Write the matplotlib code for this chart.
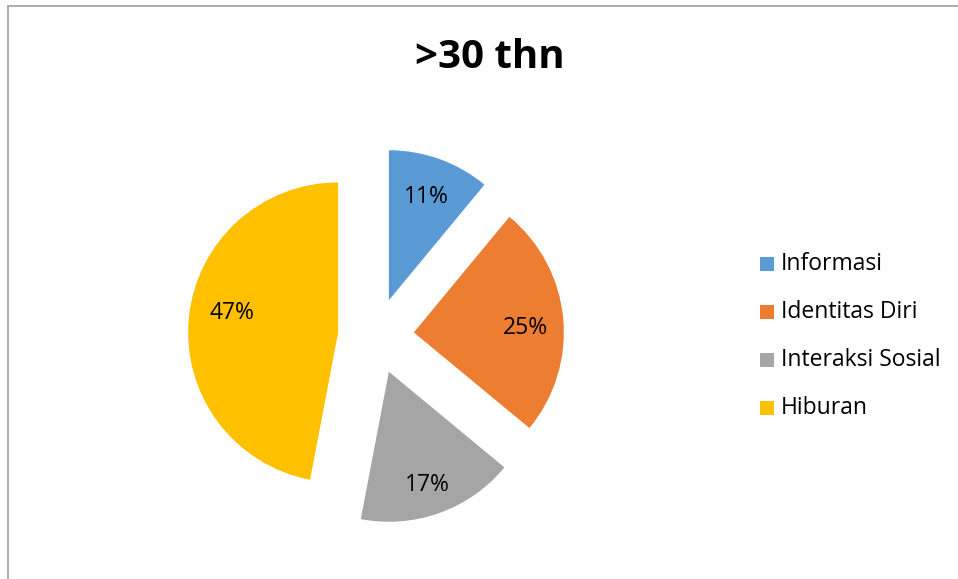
import matplotlib
matplotlib.use("Agg")
import matplotlib.pyplot as plt
from matplotlib.patches import Rectangle

categories = ["Informasi", "Identitas Diri", "Interaksi Sosial", "Hiburan"]
values = [11, 25, 17, 47]
colors = ["#5B9BD5", "#ED7D31", "#A5A5A5", "#FFC000"]
title = ">30 thn"

plt.rcParams['font.family'] = ['Open Sans', 'DejaVu Sans']

W, H = 958, 579
fig = plt.figure(figsize=(W / 100, H / 100), dpi=100)
ax = fig.add_axes([0, 0, 1, 1])

radius = 150
wedges, texts, autotexts = ax.pie(
    values, colors=colors, startangle=90, counterclock=False,
    center=(376, H - 336), radius=radius, explode=[38] * len(values),
    autopct='%1.0f%%', pctdistance=0.75,
    textprops=dict(fontsize=16.5, color='black'),
    wedgeprops=dict(linewidth=0))
# small label nudges (pixels, y-up) to mimic the original label placement
nudges = [(-1, -3), (0, -6), (0, -7), (6, 9)]
for t, (dx, dy) in zip(autotexts, nudges):
    x, y = t.get_position()
    t.set_position((x + dx, y + dy))
ax.set_xlim(0, W)
ax.set_ylim(0, H)
ax.set_aspect('equal')
ax.axis('off')

# chart border (only top/left visible)
fig.patches.append(Rectangle((8 / W, -0.1), 1.2, (H - 6.5) / H + 0.1,
                             transform=fig.transFigure, fill=False,
                             edgecolor="#A6A6A6", linewidth=1.3))

fig.text(490 / W, 1 - 58 / H, title, ha='center', va='center',
         fontsize=29, fontweight='bold', color='black')

# legend
for i, (c, lab) in enumerate(zip(colors, categories)):
    yc = 264 + 48 * i
    fig.patches.append(Rectangle((760 / W, 1 - (yc + 7) / H), 14 / W, 14 / H,
                                 transform=fig.transFigure, facecolor=c,
                                 edgecolor='none'))
    fig.text(781 / W, 1 - yc / H, lab, ha='left', va='center',
             fontsize=16.5, color='black')

fig.savefig("out.png", dpi=100)
